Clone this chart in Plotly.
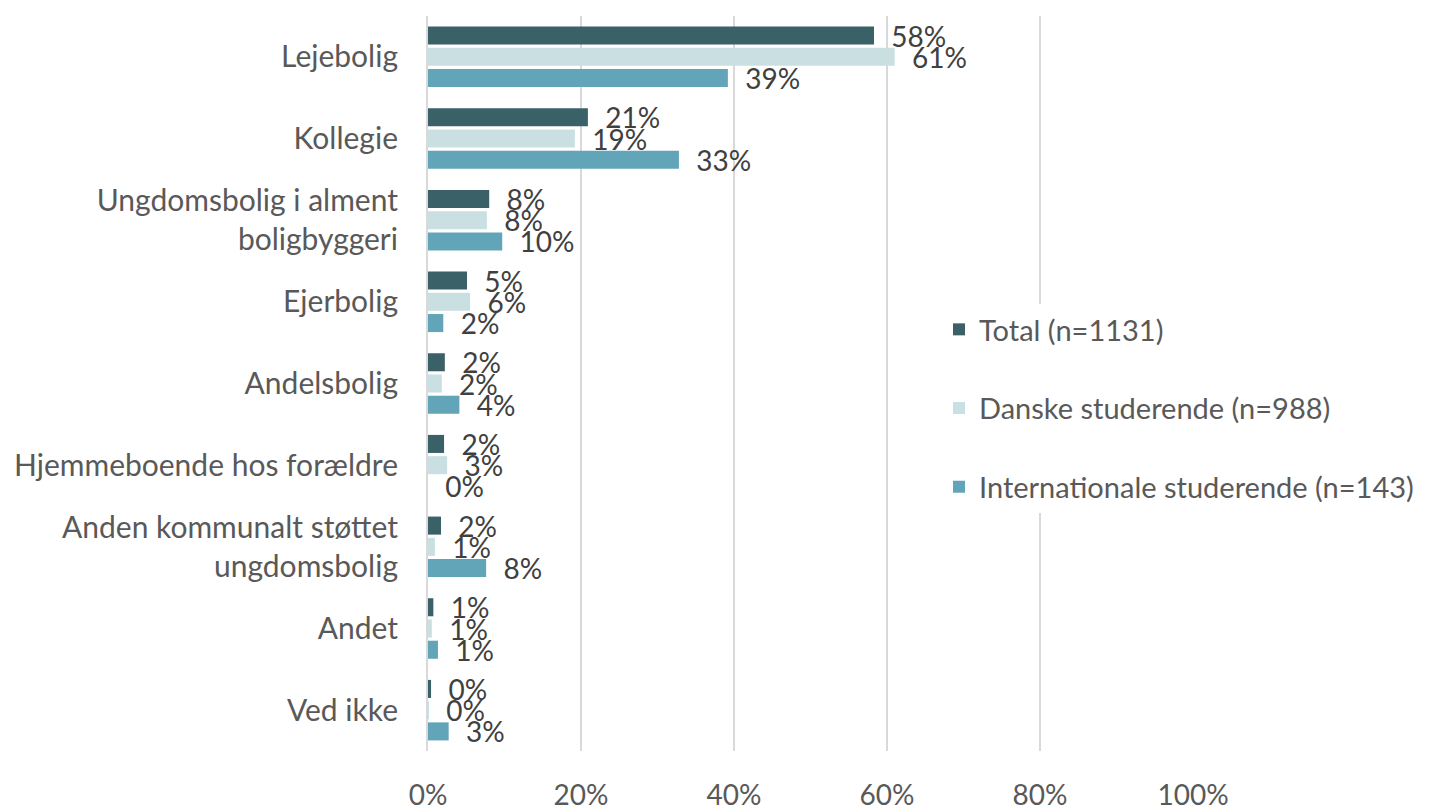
import plotly.graph_objects as go

categories = ["Lejebolig", "Kollegie", "Ungdomsbolig i alment<br>boligbyggeri", "Ejerbolig",
              "Andelsbolig", "Hjemmeboende hos forældre", "Anden kommunalt støttet<br>ungdomsbolig",
              "Andet", "Ved ikke"]
series_names = ["Total (n=1131)", "Danske studerende (n=988)", "Internationale studerende (n=143)"]
total = [0.583, 0.209, 0.080, 0.051, 0.022, 0.021, 0.017, 0.007, 0.004]
danske = [0.610, 0.192, 0.077, 0.055, 0.018, 0.025, 0.009, 0.005, 0.001]
intl = [0.392, 0.328, 0.097, 0.020, 0.041, 0.0, 0.076, 0.013, 0.027]
colors = ["#3A6168", "#C9DFE2", "#62A5B8"]
x_ticks = [0, 0.2, 0.4, 0.6, 0.8, 1.0]
x_labels = ["0%", "20%", "40%", "60%", "80%", "100%"]

FONT = "Lato"
fig = go.Figure()
for name, vals, col in zip(series_names, [total, danske, intl], colors):
    fig.add_trace(go.Bar(
        y=categories, x=vals, orientation="h", name=name,
        marker=dict(color=col, line=dict(color="white", width=0)),
        text=vals, texttemplate="  %{x:.0%}", textposition="outside",
        constraintext="none", cliponaxis=False,
        textfont=dict(family=FONT, size=28, color="#404040"),
        legendgroup=name,
    ))

fig.update_layout(
    width=1430, height=808,
    margin=dict(l=420, r=245, t=8, b=65, autoexpand=False),
    paper_bgcolor="white", plot_bgcolor="white",
    barmode="group", bargap=0.22, bargroupgap=0.15,
    font=dict(family=FONT, size=28, color="#595959"),
    showlegend=True,
    legend=dict(x=0.668, y=0.466, xanchor="left", yanchor="middle",
                bgcolor="white", traceorder="grouped", tracegroupgap=38,
                font=dict(family=FONT, size=29, color="#595959")),
    xaxis=dict(range=[0, 1.0], tickvals=x_ticks, ticktext=x_labels,
               showgrid=True, gridcolor="#D9D9D9", gridwidth=2,
               zeroline=False, showline=False, ticks="", automargin=False,
               ticklabelstandoff=25,
               tickfont=dict(family=FONT, size=28, color="#595959")),
    yaxis=dict(autorange="reversed", showline=True, linecolor="#D9D9D9", linewidth=2,
               ticks="", ticklabelstandoff=22, showgrid=False, automargin=False,
               tickfont=dict(family=FONT, size=30, color="#595959")),
)
fig.write_html("out.html")
